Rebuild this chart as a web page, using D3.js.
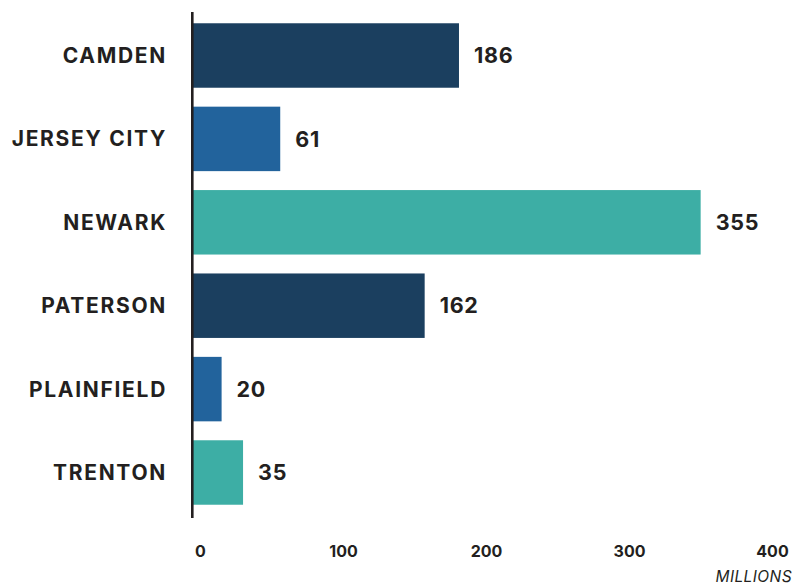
<!DOCTYPE html>
<html>
<head>
<meta charset="utf-8">
<script src="https://cdn.jsdelivr.net/npm/d3@7"></script>
<style>
  body { margin: 0; background: #fff; }
  svg { display: block; }
</style>
</head>
<body>
<svg id="chart" width="796" height="586"></svg>
<script>
// data
const cities = ['CAMDEN', 'JERSEY CITY', 'NEWARK', 'PATERSON', 'PLAINFIELD', 'TRENTON'];
const values = [186, 61, 355, 162, 20, 35];
const barColors = ['#1b3f5f', '#22639c', '#3daea5', '#1b3f5f', '#22639c', '#3daea5'];
const ticks = [0, 100, 200, 300, 400];
const unitLabel = 'MILLIONS';

const svg = d3.select('#chart');
const ink = '#231f20';
const font = 'Inter, "DejaVu Sans", sans-serif';

const x = d3.scaleLinear().domain([0, 400]).range([193, 765]);
const y = d3.scaleBand().domain(cities).range([13.8, 514.2])
  .paddingInner(0.227).paddingOuter(0.1135);

const rows = cities.map((c, i) => ({ city: c, value: values[i], color: barColors[i] }));

// bars
svg.append('g').selectAll('rect')
  .data(rows)
  .join('rect')
  .attr('x', x(0))
  .attr('y', d => y(d.city))
  .attr('width', d => x(d.value) - x(0))
  .attr('height', y.bandwidth())
  .attr('fill', d => d.color);

// value labels
svg.append('g').selectAll('text')
  .data(rows)
  .join('text')
  .attr('x', d => x(d.value) + 15)
  .attr('y', d => y(d.city) + y.bandwidth() / 2)
  .attr('dy', '0.36em')
  .attr('font-family', font)
  .attr('font-weight', 700)
  .attr('font-size', 21.5)
  .attr('letter-spacing', 0.7)
  .attr('fill', ink)
  .text(d => d.value);

// category labels
svg.append('g').selectAll('text')
  .data(rows)
  .join('text')
  .attr('x', 167)
  .attr('y', d => y(d.city) + y.bandwidth() / 2)
  .attr('dy', '0.36em')
  .attr('text-anchor', 'end')
  .attr('font-family', font)
  .attr('font-weight', 700)
  .attr('font-size', 21)
  .attr('letter-spacing', 1.7)
  .attr('fill', ink)
  .text(d => d.city);

// vertical axis line
svg.append('line')
  .attr('x1', 192.3).attr('x2', 192.3)
  .attr('y1', 12).attr('y2', 518)
  .attr('stroke', ink)
  .attr('stroke-width', 2.6);

// x tick labels (no axis line in the reference)
const xAxis = svg.append('g')
  .attr('transform', 'translate(7,546)')
  .call(d3.axisBottom(x).tickValues(ticks).tickSize(0).tickPadding(0));
xAxis.select('.domain').remove();
xAxis.selectAll('text')
  .attr('dy', '0.71em')
  .attr('font-family', font)
  .attr('font-weight', 700)
  .attr('font-size', 16)
  .attr('fill', ink);

svg.append('text')
  .attr('x', 792)
  .attr('y', 582)
  .attr('text-anchor', 'end')
  .attr('font-family', font)
  .attr('font-style', 'italic')
  .attr('font-weight', 400)
  .attr('font-size', 15.5)
  .attr('letter-spacing', 0.4)
  .attr('fill', ink)
  .text(unitLabel);
</script>
</body>
</html>
